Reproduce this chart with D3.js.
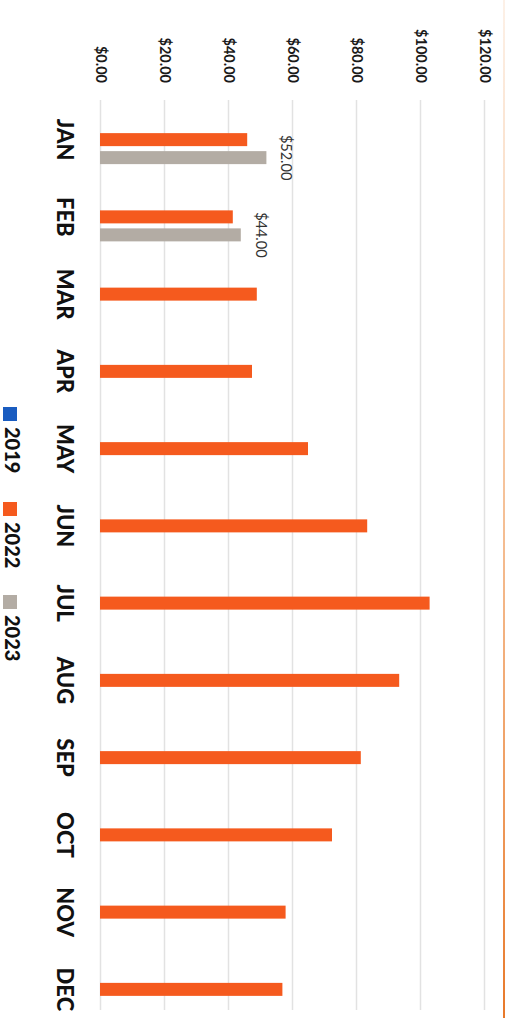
<!DOCTYPE html>
<html><head><meta charset="utf-8">
<script src="https://cdn.jsdelivr.net/npm/d3@7"></script>
<style>html,body{margin:0;padding:0;background:#fff;}svg{display:block;}</style>
</head><body>
<script>
const months = ["JAN","FEB","MAR","APR","MAY","JUN","JUL","AUG","SEP","OCT","NOV","DEC"];
const seriesNames = ["2019","2022","2023"];
const values2019 = [null,null,null,null,null,null,null,null,null,null,null,null];
const values2022 = [46, 41.5, 49, 47.5, 65, 83.5, 103, 93.5, 81.5, 72.5, 58, 57];
const values2023 = [52, 44, null,null,null,null,null,null,null,null,null,null];
const tickValues = [0,20,40,60,80,100,120];
const colors = {"2019":"#1a5cc0","2022":"#f55a1e","2023":"#b3aca4"};

const W = 507, H = 1018;
const svg = d3.select("body").append("svg").attr("width", W).attr("height", H);
const font = "Lato, 'Open Sans', sans-serif";

const x = d3.scaleLinear().domain([0,120]).range([100,484]);
const y = d3.scaleBand().domain(months).range([101,1028]).padding(0);
const ySub = d3.scaleBand().domain(seriesNames).range([-24.5,24.5]).paddingInner(0.278);

// gridlines
const grid = svg.append("g").attr("transform","translate(0,100)")
  .call(d3.axisBottom(x).tickValues(tickValues).tickSize(910).tickFormat(""));
grid.select(".domain").remove();
grid.selectAll("line").attr("stroke","#e2e2e2").attr("stroke-width",1.5);

// tick labels (rotated)
const ax = svg.append("g").attr("transform","translate(0,83)")
  .call(d3.axisTop(x).tickValues(tickValues).tickSize(0).tickFormat(d => "$" + d3.format(".2f")(d)));
ax.select(".domain").remove();
ax.selectAll("text")
  .attr("transform", "translate(-5,0) rotate(90)")
  .attr("x",0).attr("y",0).attr("dy",0)
  .attr("text-anchor","end")
  .style("font-family",font).style("font-weight","bold").style("font-size","14.5px").attr("fill","#1a1a1a");

// bars
const data = [];
months.forEach((m,i)=>{
  [["2019",values2019[i]],["2022",values2022[i]],["2023",values2023[i]]].forEach(([s,v])=>{
    if (v != null) data.push({m, s, v});
  });
});
const bw = y.bandwidth();
svg.append("g").selectAll("rect").data(data).join("rect")
  .attr("x", x(0))
  .attr("y", d => y(d.m) + bw/2 + ySub(d.s))
  .attr("width", d => x(d.v) - x(0))
  .attr("height", ySub.bandwidth())
  .attr("fill", d => colors[d.s]);

// data labels for 2023
svg.append("g").selectAll("text").data(data.filter(d => d.s === "2023")).join("text")
  .attr("transform", d => `translate(${x(d.v)+15},${y(d.m) + bw/2 + ySub(d.s) + ySub.bandwidth()/2}) rotate(90)`)
  .attr("text-anchor","middle")
  .style("font-family",font).style("font-size","14.5px").attr("fill","#333")
  .text(d => "$" + d3.format(".2f")(d.v));

// month labels
svg.append("g").selectAll("text").data(months).join("text")
  .attr("transform", d => `translate(57,${y(d) + bw/2}) rotate(90)`)
  .attr("text-anchor","middle")
  .style("font-family",font).style("font-weight","900").style("font-size","22px").attr("fill","#111")
  .text(d => d);

// legend
const legendY = [407, 502, 595];
const lg = svg.append("g");
seriesNames.forEach((s,i)=>{
  lg.append("rect").attr("x",3).attr("y",legendY[i]).attr("width",14).attr("height",14).attr("fill",colors[s]);
  lg.append("text").attr("transform",`translate(5,${legendY[i]+20}) rotate(90)`)
    .attr("text-anchor","start")
    .style("font-family",font).style("font-weight","900").style("font-size","20px").attr("fill","#111")
    .text(s);
});

// orange page edge line on the right
const defs = svg.append("defs");
const grad = defs.append("linearGradient").attr("id","edge").attr("x1",0).attr("y1",0).attr("x2",0).attr("y2",1);
grad.append("stop").attr("offset","0%").attr("stop-color","#f0a060").attr("stop-opacity",0.15);
grad.append("stop").attr("offset","45%").attr("stop-color","#f0a060").attr("stop-opacity",0.6);
grad.append("stop").attr("offset","100%").attr("stop-color","#e8792a").attr("stop-opacity",1);
svg.append("rect").attr("x",503).attr("y",0).attr("width",2).attr("height",H).attr("fill","url(#edge)");
</script>
</body></html>
